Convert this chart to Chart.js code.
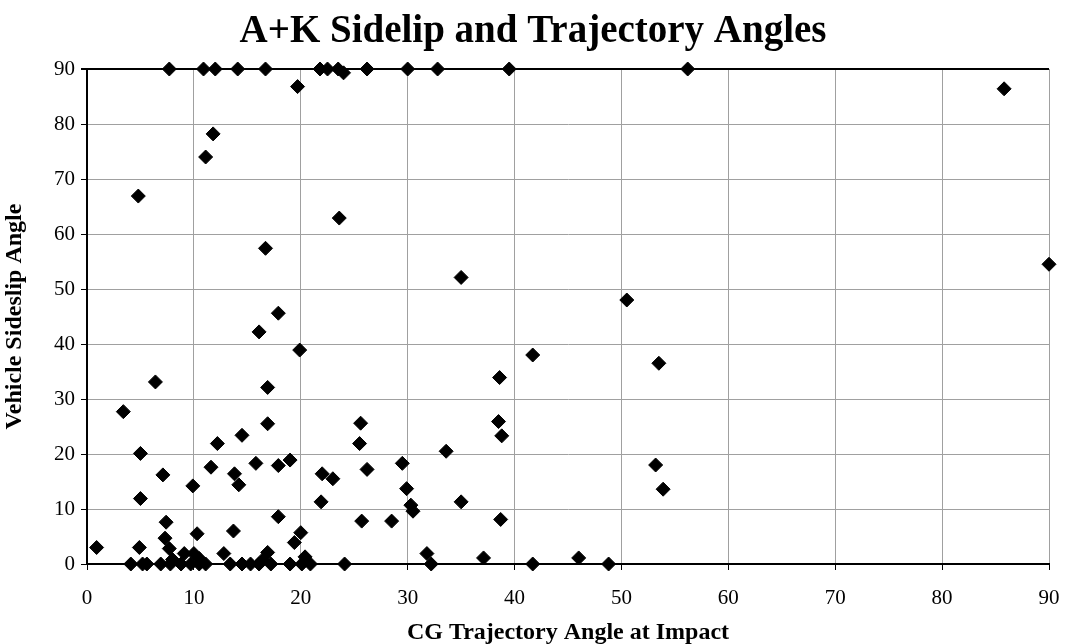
<!DOCTYPE html>
<html>
<head>
<meta charset="utf-8">
<script src="https://cdn.jsdelivr.net/npm/chart.js@4"></script>
<style>
  html, body { margin: 0; padding: 0; background: #fff; }
  #wrap { width: 1066px; height: 644px; }
</style>
</head>
<body>
<div id="wrap"><canvas id="chart"></canvas></div>
<script>
// CG trajectory angle at impact (x) and vehicle sideslip angle (y)
const trajectoryAngle = [
    7.7, 10.9, 12.0, 14.1, 16.7, 21.8, 22.5, 23.5, 24.0, 26.2, 30.0, 32.8, 39.5, 56.2,
    19.7, 85.8, 11.8, 11.1, 4.8, 23.6, 16.7, 90.0, 35.0, 50.5, 17.9, 16.1, 19.9, 41.7,
    53.5, 38.6, 6.4, 16.9, 3.4, 38.5, 25.6, 16.9, 14.5, 38.8, 12.2, 25.5, 33.6, 5.0,
    19.0, 15.8, 29.5, 53.2, 17.9, 11.6, 26.2, 22.0, 13.8, 7.1, 23.0, 14.2, 9.9, 29.9,
    53.9, 5.0, 21.9, 35.0, 30.3, 30.5, 17.9, 38.7, 25.7, 28.5, 7.4, 13.7, 10.3, 20.0,
    7.3, 19.4, 0.9, 4.9, 7.7, 9.1, 10.0, 12.8, 16.9, 20.4, 31.8, 37.1, 46.0, 16.4,
    8.0, 10.5,
    4.1, 5.2, 5.6, 6.9, 7.8, 8.8, 9.7, 10.5, 11.1, 13.4, 14.5, 15.3, 16.1, 17.2, 19.0,
    20.1, 20.9, 24.1, 32.2, 41.7, 48.8
];
const sideslipAngle = [
    90, 90, 90, 90, 90, 90, 90, 90, 89.3, 90, 90, 90, 90, 90,
    86.8, 86.4, 78.2, 74.0, 66.9, 62.9, 57.4, 54.5, 52.1, 48.0, 45.6, 42.2, 38.9, 38.0,
    36.5, 33.9, 33.1, 32.1, 27.7, 25.9, 25.6, 25.5, 23.4, 23.3, 21.9, 21.9, 20.5, 20.1,
    18.9, 18.3, 18.3, 18.0, 17.9, 17.6, 17.2, 16.4, 16.4, 16.2, 15.5, 14.4, 14.2, 13.7,
    13.6, 11.9, 11.3, 11.3, 10.7, 9.6, 8.6, 8.1, 7.8, 7.8, 7.6, 6.0, 5.5, 5.7,
    4.7, 3.9, 3.0, 3.0, 2.8, 1.9, 1.9, 1.9, 2.1, 1.3, 1.9, 1.1, 1.1, 0.7,
    0.8, 1.0,
    0, 0, 0, 0, 0, 0, 0, 0, 0, 0, 0, 0, 0, 0, 0,
    0, 0, 0, 0, 0, 0
];
const axisTicks = [0, 10, 20, 30, 40, 50, 60, 70, 80, 90];

const points = trajectoryAngle.map((x, i) => ({ x: x, y: sideslipAngle[i] }));
const serif = "'Liberation Serif', 'Times New Roman', serif";
const gridGray = '#a0a0a0';

new Chart(document.getElementById('chart'), {
    type: 'scatter',
    data: {
        datasets: [{
            data: points,
            pointStyle: 'rectRot',
            pointRadius: 7,
            pointHoverRadius: 7,
            backgroundColor: '#000',
            borderColor: '#000',
            borderWidth: 1,
            clip: false
        }]
    },
    options: {
        responsive: true,
        maintainAspectRatio: false,
        animation: false,
        layout: { padding: 0 },
        plugins: {
            legend: { display: false },
            tooltip: { enabled: false },
            title: {
                display: true,
                text: 'A+K Sidelip and Trajectory Angles',
                color: '#000',
                font: { family: serif, size: 39, weight: 'bold' },
                padding: { top: 9, bottom: 13.2 }
            }
        },
        scales: {
            x: {
                type: 'linear',
                min: 0,
                max: 90,
                afterBuildTicks: scale => { scale.ticks = axisTicks.map(v => ({ value: v })); },
                afterFit: scale => {
                    scale.height = 80;
                    scale.paddingLeft = 0;
                    scale.paddingRight = 17; // room on the right of the plot, like the original
                },
                ticks: { color: '#000', font: { family: serif, size: 21 }, padding: 16, maxRotation: 0 },
                grid: {
                    color: ctx => ctx.tick && ctx.tick.value === 0 ? '#000' : gridGray,
                    lineWidth: 1,
                    tickLength: 6,
                    tickColor: '#000'
                },
                border: { color: '#000', width: 2 },
                title: {
                    display: true,
                    text: 'CG Trajectory Angle at Impact',
                    color: '#000',
                    font: { family: serif, size: 24, weight: 'bold', lineHeight: 0.9 },
                    padding: { top: 0, bottom: 0 }
                }
            },
            y: {
                type: 'linear',
                min: 0,
                max: 90,
                afterBuildTicks: scale => { scale.ticks = axisTicks.map(v => ({ value: v })); },
                afterFit: scale => { scale.width = 87; },
                ticks: { color: '#000', font: { family: serif, size: 21 }, padding: 6 },
                grid: {
                    color: ctx => ctx.tick && (ctx.tick.value === 90 || ctx.tick.value === 0) ? '#000' : gridGray,
                    lineWidth: ctx => ctx.tick && ctx.tick.value === 90 ? 2 : 1,
                    tickLength: 6,
                    tickColor: '#000'
                },
                border: { color: '#000', width: 2 },
                title: {
                    display: true,
                    text: 'Vehicle Sideslip Angle',
                    color: '#000',
                    font: { family: serif, size: 24, weight: 'bold' },
                    padding: { top: 0, bottom: 0 }
                }
            }
        }
    }
});
</script>
</body>
</html>
